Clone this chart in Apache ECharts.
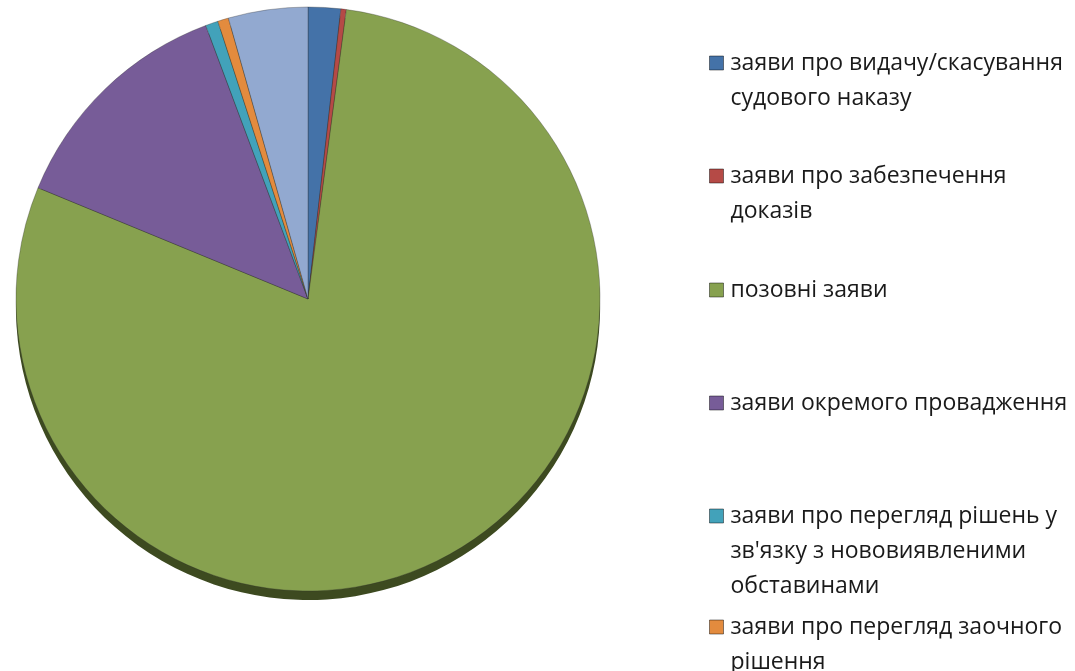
<!DOCTYPE html>
<html>
<head>
<meta charset="utf-8">
<script src="https://cdn.jsdelivr.net/npm/echarts@6/dist/echarts.min.js"></script>
<style>
  html, body { margin: 0; padding: 0; background: #fff; }
  #chart { width: 1075px; height: 671px; }
</style>
</head>
<body>
<div id="chart"></div>
<script>
// categories (clockwise from 12 o'clock)
var names = [
  'заяви про видачу/скасування судового наказу',
  'заяви про забезпечення доказів',
  'позовні заяви',
  'заяви окремого провадження',
  "заяви про перегляд рішень у зв'язку з нововиявленими обставинами",
  'заяви про перегляд заочного рішення',
  'інші заяви'
]
// legend text split into lines as in the picture
var legendLines = [
  ['заяви про видачу/скасування', 'судового наказу'],
  ['заяви про забезпечення', 'доказів'],
  ['позовні заяви'],
  ['заяви окремого провадження'],
  ['заяви про перегляд рішень у', "зв'язку з нововиявленими", 'обставинами'],
  ['заяви про перегляд заочного', 'рішення']
]
// shares, %
var values = [1.8, 0.3, 79.2, 13.1, 0.7, 0.6, 4.4]
var colors = ['#4472a8', '#b54a46', '#87a14f', '#775c98', '#42a2ba', '#e38b3e', '#92a9d0']

var lineH = 35
var firstLineY = [63, 176, 290, 403, 516, 627] // centre of the first text line

var chart = echarts.init(document.getElementById('chart'))

var legends = legendLines.map(function (lines, i) {
  var n = lines.length
  // blank lines in front keep the square level with the first line
  var text = new Array(n).join('\n') + lines.join('\n')
  return {
    orient: 'vertical',
    left: 709,
    top: firstLineY[i] - (n - 1) * lineH - lineH / 2,
    padding: 0,
    itemWidth: 14,
    itemHeight: 14,
    icon: 'rect',
    selectedMode: false,
    data: [names[i]],
    formatter: function () { return text },
    itemStyle: { borderColor: 'rgba(0,0,0,0.45)', borderWidth: 1 },
    textStyle: {
      fontFamily: 'Open Sans',
      fontSize: 23,
      lineHeight: lineH,
      padding: [0, 0, 0, 2],
      color: '#1a1a1a'
    }
  }
})

chart.setOption({
  animation: false,
  color: colors,
  legend: legends,
  series: [
    {
      name: 'заяви',
      type: 'pie',
      z: 3,
      center: [308, 299],
      radius: 292,
      startAngle: 90,
      clockwise: true,
      label: { show: false },
      labelLine: { show: false },
      itemStyle: { borderColor: 'rgba(40,40,40,0.45)', borderWidth: 0.7 },
      emphasis: { disabled: true },
      data: names.map(function (n, i) {
        return { name: n, value: values[i] }
      })
    },
    {
      // dark rim under the pie
      type: 'pie',
      z: 1,
      silent: true,
      center: [308, 308],
      radius: 292,
      startAngle: 90,
      label: { show: false },
      labelLine: { show: false },
      itemStyle: { color: '#3d4a20' },
      data: values.map(function (v) { return { value: v } })
    }
  ]
})
</script>
</body>
</html>
